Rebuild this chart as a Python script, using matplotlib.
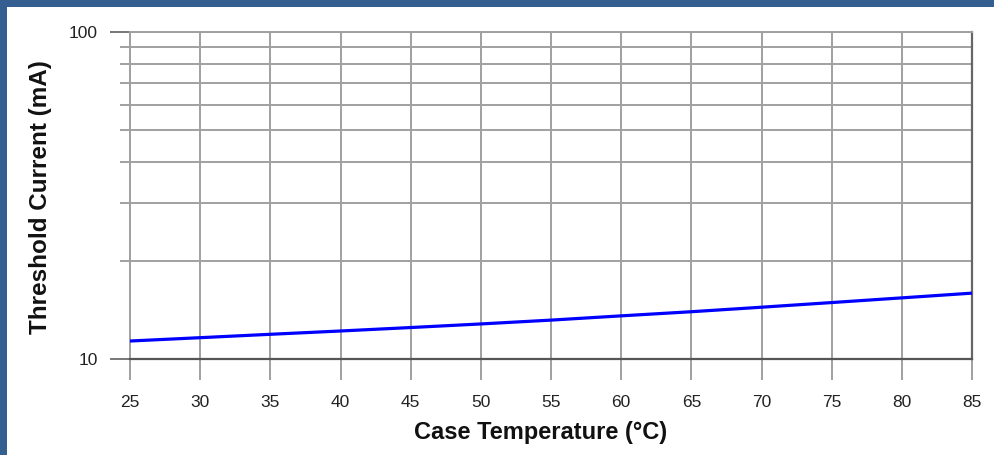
import numpy as np
import matplotlib.pyplot as plt
from matplotlib.patches import Rectangle
from matplotlib.ticker import FixedLocator, NullFormatter

plt.rcParams['font.family'] = ['Liberation Sans', 'DejaVu Sans']

# data
temp_c = [25, 30, 35, 40, 45, 50, 55, 60, 65, 70, 75, 80, 85]
threshold_ma = [11.35, 11.62, 11.9, 12.18, 12.48, 12.8, 13.15, 13.55, 13.95, 14.4, 14.88, 15.38, 15.9]
x_ticks = list(range(25, 90, 5))
y_major = [10, 100]
y_minor = [20, 30, 40, 50, 60, 70, 80, 90]

W, H = 995, 455
fig = plt.figure(figsize=(W / 100, H / 100), dpi=100)
fig.patch.set_facecolor('white')

# blue frame at top and left
frame = '#365f91'
fig.patches.append(Rectangle((0, 1 - 7 / H), 1, 7 / H, transform=fig.transFigure,
                             facecolor=frame, edgecolor='none'))
fig.patches.append(Rectangle((0, 0), 7 / W, 1, transform=fig.transFigure,
                             facecolor=frame, edgecolor='none'))

ax = fig.add_axes([130 / W, 1 - 359 / H, (972 - 130) / W, (359 - 32) / H])
ax.plot(temp_c, threshold_ma, color='#0000ff', lw=2.3, solid_capstyle='butt', zorder=3)

ax.set_yscale('log')
ax.set_xlim(25, 85)
ax.set_ylim(10, 100)

ax.xaxis.set_major_locator(FixedLocator(x_ticks))
ax.yaxis.set_major_locator(FixedLocator(y_major))
ax.yaxis.set_minor_locator(FixedLocator(y_minor))
ax.yaxis.set_minor_formatter(NullFormatter())
ax.set_yticklabels([str(v) for v in y_major])

grid_c = '#a0a0a0'
ax.grid(True, which='major', axis='x', color=grid_c, lw=1.4)
ax.grid(True, which='both', axis='y', color=grid_c, lw=1.4)
ax.set_axisbelow(True)

ax.tick_params(axis='x', which='major', length=15, width=1.4, color=grid_c,
               pad=11, labelsize=12.5, labelcolor='#222222')
ax.tick_params(axis='y', which='major', length=14.4, width=1.4, color='#777777',
               pad=9, labelsize=12.5, labelcolor='#222222')
ax.tick_params(axis='y', which='minor', length=7.2, width=1.4, color=grid_c)

for s in ['left', 'top']:
    ax.spines[s].set_color(grid_c)
    ax.spines[s].set_linewidth(1.4)
ax.spines['bottom'].set_color('#555555')
ax.spines['bottom'].set_linewidth(1.6)
ax.spines['right'].set_color('#666666')
ax.spines['right'].set_linewidth(1.6)

fig.text(541 / W, 1 - 433 / H, 'Case Temperature (°C)', ha='center', va='center',
         fontsize=17, fontweight='bold', color='#111111')
fig.text(41 / W, 1 - 197 / H, 'Threshold Current (mA)', ha='center', va='center',
         rotation=90, fontsize=17.5, fontweight='bold', color='#111111')

fig.savefig('out.png', dpi=100)
